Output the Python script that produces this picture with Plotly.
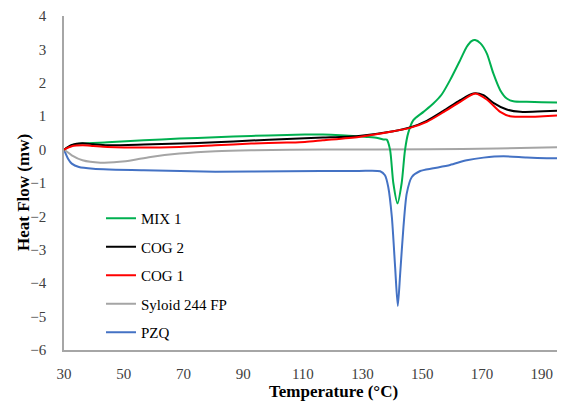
import plotly.graph_objects as go

# ---- data ----
mix1_t = [30, 33, 36, 44.6, 56.7, 68.7, 80.7, 92.7, 104.7, 110.7, 116.7, 122.7, 128, 131.4, 135, 137, 138.1,
          139.2, 140.3, 141.7, 143.1, 144.2, 145.3, 147.0, 150.4, 153.7, 156.5, 159.3, 162.7, 164.9, 166.5,
          167.7, 169.5, 171.6, 173.8, 176.1, 178.3, 180.5, 185, 190, 197.8]
mix1_v = [0.0, 0.14, 0.18, 0.22, 0.28, 0.33, 0.37, 0.41, 0.44, 0.45, 0.45, 0.43, 0.40, 0.38, 0.35, 0.30, 0.30,
          0.0, -1.0, -1.61, -1.0, -0.02, 0.5, 0.88, 1.13, 1.38, 1.65, 2.08, 2.68, 3.08, 3.25,
          3.28, 3.18, 2.88, 2.28, 1.78, 1.53, 1.45, 1.43, 1.42, 1.41]

cog2_t = [30, 32.6, 36.2, 39.8, 44.6, 56.7, 68.7, 80.7, 92.7, 104.7, 116.7, 128.7, 140.3, 145.9, 151.5,
          157.1, 162.7, 167.1, 170.5, 173.8, 178.3, 182.8, 190.6, 197.8]
cog2_v = [0.0, 0.14, 0.19, 0.16, 0.13, 0.15, 0.18, 0.22, 0.27, 0.32, 0.36, 0.41, 0.55, 0.66, 0.86,
          1.16, 1.48, 1.68, 1.63, 1.40, 1.20, 1.13, 1.15, 1.17]

cog1_t = [30, 32.6, 36.2, 39.8, 44.6, 56.7, 68.7, 80.7, 92.7, 104.7, 110.7, 116.7, 128.7, 140.3, 145.9,
          151.5, 157.1, 162.7, 167.7, 171.6, 176.1, 179.4, 185, 190.6, 197.8]
cog1_v = [0.0, 0.10, 0.13, 0.11, 0.08, 0.06, 0.08, 0.13, 0.18, 0.21, 0.23, 0.28, 0.38, 0.55, 0.65,
          0.83, 1.12, 1.43, 1.68, 1.50, 1.13, 1.00, 0.98, 1.00, 1.03]

syloid_t = [30, 32.6, 36.2, 42.2, 50.6, 59, 68.7, 80.7, 92.7, 116.7, 152.7, 175, 197.8]
syloid_v = [0.0, -0.17, -0.32, -0.39, -0.35, -0.22, -0.12, -0.05, -0.02, 0.0, 0.01, 0.03, 0.08]

pzq_t = [30, 31.4, 32.6, 35, 39.8, 56.7, 80.7, 104.7, 128.7, 135.9, 137.5, 138.6, 139.8, 140.9, 141.8,
         142.6, 143.7, 144.8, 146.5, 149.3, 153.7, 159.3, 164.9, 170.5, 177.2, 185, 191.7, 197.8]
pzq_v = [0.0, -0.28, -0.42, -0.52, -0.57, -0.62, -0.66, -0.65, -0.64, -0.65, -0.77, -1.12, -2.01, -3.51, -4.68,
         -3.71, -2.31, -1.31, -0.82, -0.64, -0.56, -0.46, -0.32, -0.24, -0.20, -0.24, -0.26, -0.26]

x_ticks = [30, 50, 70, 90, 110, 130, 150, 170, 190]
y_ticks = [4, 3, 2, 1, 0, -1, -2, -3, -4, -5, -6]

SERIF = "Liberation Serif"

series = [
    # (name, t, v, color, legendrank)
    ("PZQ", pzq_t, pzq_v, "#4472C4", 5),
    ("Syloid 244 FP", syloid_t, syloid_v, "#A5A5A5", 4),
    ("MIX 1", mix1_t, mix1_v, "#00B050", 1),
    ("COG 2", cog2_t, cog2_v, "#000000", 2),
    ("COG 1", cog1_t, cog1_v, "#FF0000", 3),
]

fig = go.Figure()
for name, t, v, color, rank in series:
    fig.add_trace(go.Scatter(
        x=t, y=v, mode="lines", name=name, legendrank=rank, legendgroup=name,
        line=dict(color=color, width=2, shape="spline", smoothing=0.7),
    ))

# page body has an 8px margin, so the figure is 8px smaller and everything is shifted by -8
OFF = 8
L, T, R, B = 64 - OFF, 16 - OFF, 565 - OFF, 350 - OFF
W, H = 565 - OFF, 401 - OFF
PW, PH = R - L, B - T

fig.update_layout(
    width=W, height=H,
    margin=dict(l=L, r=W - R, t=T, b=H - B),
    paper_bgcolor="white", plot_bgcolor="white",
    font=dict(family=SERIF, size=15, color="#404040"),
    showlegend=True,
    legend=dict(
        x=(107 - OFF - L) / PW - 0.012, y=(B - (202 - OFF)) / PH, xanchor="left", yanchor="top",
        bgcolor="rgba(0,0,0,0)", tracegroupgap=6,
        font=dict(family=SERIF, size=15, color="#000000"),
        itemwidth=30,
    ),
    xaxis=dict(
        range=[30, 197.8], tickvals=x_ticks, showgrid=False, zeroline=False,
        showline=True, linecolor="#A6A6A6", linewidth=1.5, ticks="",
        ticklabelstandoff=9,
    ),
    yaxis=dict(
        range=[-6, 4], tickvals=y_ticks, showgrid=False, zeroline=False,
        showline=True, linecolor="#A6A6A6", linewidth=1.5, ticks="",
        ticklabelstandoff=13,
    ),
    annotations=[
        dict(text="<b>Temperature (°C)</b>", xref="paper", yref="paper",
             x=(333.5 - OFF - L) / PW, y=-((391 - OFF) - B) / PH, xanchor="center", yanchor="middle",
             showarrow=False, font=dict(family=SERIF, size=17, color="#000000")),
        dict(text="<b>Heat Flow (mw)</b>", xref="paper", yref="paper",
             x=-(L - (23 - OFF)) / PW, y=(B - (193 - OFF)) / PH, xanchor="center", yanchor="middle",
             textangle=-90, showarrow=False, font=dict(family=SERIF, size=17, color="#000000")),
    ],
)

fig.write_html("out.html")
